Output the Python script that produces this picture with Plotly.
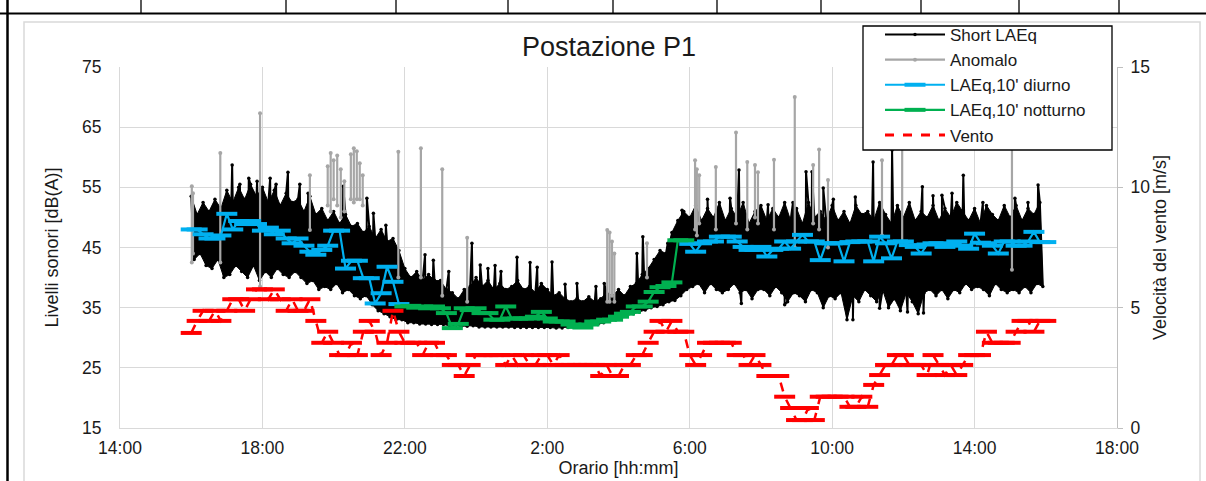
import pandas as pd
import plotly.graph_objects as go

# ---------------- DATA ----------------
START = pd.Timestamp("2021-06-15 16:00")
N_SLOTS = 145  # 10-minute slots 16:00 -> 16:00 next day

# Short LAEq envelope per 10-min slot (upper / lower reading of the dense band), dB(A)
short_hi = [
    53.5, 50.5, 52.5, 51.0, 53.0, 51.5,   # 16
    54.5, 52.5, 55.0, 53.0, 55.5, 53.5,   # 17
    55.0, 52.5, 54.5, 52.0, 54.0, 52.5,   # 18
    53.0, 51.0, 53.5, 50.5, 51.5, 49.5,   # 19
    51.0, 49.0, 50.5, 48.5, 49.0, 47.5,   # 20
    48.5, 46.5, 48.0, 46.0, 46.5, 44.5,   # 21
    41.5, 40.0, 41.0, 39.5, 40.5, 39.5,   # 22
    39.5, 38.0, 37.5, 36.5, 38.0, 38.5,   # 23
    40.0, 38.5, 39.5, 38.0, 39.0, 38.0,   # 0
    38.5, 39.5, 38.0, 38.5, 37.5, 39.0,   # 1
    38.0, 37.0, 37.5, 36.5, 36.0, 36.5,   # 2
    36.0, 36.8, 36.0, 36.5, 37.5, 37.0,   # 3
    38.0, 37.0, 38.5, 39.0, 40.5, 41.5,   # 4
    43.0, 44.5, 44.0, 47.5, 49.5, 51.0,   # 5
    50.0, 52.0, 49.5, 51.5, 50.0, 52.5,   # 6
    49.5, 51.5, 50.0, 52.5, 49.0, 51.0,   # 7
    52.0, 49.5, 51.5, 50.0, 52.5, 49.5,   # 8
    51.5, 49.0, 52.5, 50.0, 51.0, 49.5,   # 9
    52.0, 49.5, 51.0, 49.0, 52.0, 50.5,   # 10
    51.0, 49.5, 52.5, 50.5, 49.0, 52.0,   # 11
    50.0, 52.5, 49.5, 51.0, 50.0, 52.0,   # 12
    49.5, 51.5, 50.0, 52.5, 51.0, 49.5,   # 13
    51.5, 49.0, 52.0, 50.5, 49.5, 52.0,   # 14
    50.0, 52.0, 49.5, 51.5, 50.5, 52.5,   # 15
]
short_lo = [
    43.0, 44.0, 42.0, 41.5, 43.0, 40.0,
    40.5, 42.0, 41.0, 40.0, 42.0, 39.5,
    41.0, 40.0, 41.5, 40.5, 40.0, 41.0,
    40.0, 39.0, 39.5, 38.0, 38.5, 38.0,
    39.0, 37.5, 38.0, 37.0, 36.5, 37.0,
    35.5, 34.5, 34.0, 33.5, 33.0, 33.0,
    32.5, 32.5, 32.3, 32.3, 32.2, 32.2,
    32.2, 32.0, 32.0, 31.9, 31.9, 32.0,
    31.8, 31.8, 31.8, 31.8, 31.8, 31.8,
    31.7, 31.7, 31.7, 31.7, 31.7, 31.7,
    31.7, 31.6, 31.6, 31.7, 31.8, 31.9,
    32.0, 32.1, 32.2, 32.5, 32.8, 33.0,
    33.3, 33.6, 34.0, 34.3, 34.6, 35.0,
    35.2, 35.5, 36.0, 36.2, 37.0, 38.0,
    38.5, 39.0, 37.5, 39.0, 38.0, 37.5,
    38.0, 39.0, 37.5, 38.0, 36.5, 38.0,
    38.0, 37.0, 38.5, 37.5, 36.0, 37.5,
    37.0, 36.0, 38.0, 37.5, 35.0, 37.0,
    36.5, 37.5, 33.0, 37.0, 36.0, 38.0,
    37.0, 36.0, 38.0, 35.0, 36.5, 34.5,
    37.5, 36.0, 34.0, 37.5, 38.0, 37.0,
    38.0, 36.5, 38.0, 37.5, 39.0, 38.0,
    38.5, 38.0, 37.0, 39.0, 38.0, 37.5,
    38.0, 37.5, 38.5, 37.5, 39.0, 38.5,
]
# isolated Short LAEq peaks / dips (clock time, dB(A))
short_spike_time = [
    "17:09", "17:22", "17:37", "17:51", "18:13", "18:23", "18:43", "19:03", "19:17",
    "20:16", "20:56", "21:07", "21:28",
    "22:34", "22:48", "23:14", "23:53", "00:07", "00:20", "00:32", "00:42", "01:09",
    "01:31", "01:43", "02:08", "02:30", "02:50", "03:22", "03:36", "04:31", "04:41",
    "05:23", "05:47",
    "06:30", "07:08", "07:23", "08:12", "08:54", "09:16", "09:26", "09:45", "10:02",
    "10:39", "11:09", "11:41", "12:32", "12:50", "13:05", "13:22", "13:41", "14:14",
    "15:08", "15:30", "15:47",
    "07:27", "08:40", "10:35", "11:20", "12:07", "12:34",
]
short_spike_val = [
    58.7, 55.5, 56.5, 56.0, 56.5, 55.5, 57.5, 55.5, 54.0,
    55.2, 53.2, 50.7, 48.7,
    43.8, 42.9, 41.0, 45.7, 42.1, 41.5, 42.0, 41.0, 43.4,
    42.5, 41.7, 42.6, 38.9, 39.0, 38.5, 39.0, 44.0, 46.8,
    45.7, 51.2,
    53.0, 53.2, 57.9, 52.1, 52.5, 57.6, 57.6, 54.9, 53.0,
    53.4, 59.2, 61.2, 55.1, 53.6, 53.7, 54.0, 57.0, 52.5,
    53.2, 52.5, 55.4,
    35.7, 35.5, 33.0, 34.9, 34.3, 34.1,
]

# Anomalous events (clock time, lowest and highest value of the event), dB(A)
anom_time = [
    "16:01", "16:03", "16:49", "17:56", "19:20",
    "19:50", "19:55", "20:00", "20:06", "20:12", "20:18",
    "20:29", "20:34", "20:39", "20:44", "20:49",
    "21:49", "22:27", "23:03", "23:45",
    "03:41", "03:45", "03:49", "03:53", "04:48",
    "06:09", "06:12", "06:16", "06:44", "07:18", "07:37", "07:50", "07:55",
    "08:22", "08:57", "09:28", "09:38", "09:53", "11:24", "11:58", "15:03",
]
anom_low = [
    42.5, 44.0, 42.5, 38.5, 47.9,
    52.0, 51.0, 53.0, 52.0, 50.0, 51.0,
    53.0, 52.5, 53.0, 53.0, 52.0,
    40.0, 40.0, 37.0, 36.0,
    36.0, 36.0, 37.0, 36.0, 40.0,
    48.0, 47.0, 49.0, 48.0, 49.0, 48.0, 50.0, 49.0,
    48.0, 45.0, 49.0, 48.0, 45.0, 47.0, 46.0, 41.3,
]
anom_high = [
    55.2, 54.0, 60.7, 67.3, 57.0,
    58.5, 60.7, 59.5, 60.3, 58.0, 56.0,
    60.5, 61.5, 61.0, 59.0, 57.0,
    60.9, 61.5, 58.0, 46.6,
    47.9, 47.5, 46.0, 44.0, 45.7,
    59.5, 58.0, 57.0, 58.4, 64.1, 59.2, 58.7, 57.5,
    59.6, 70.0, 58.7, 61.3, 56.2, 59.5, 63.0, 63.0,
]

# LAEq,10' daytime (16:00-21:50 and 06:00-16:00) and night-time (22:00-05:50), dB(A)
laeq_diurno_eve = [
    48.0, 48.0, 47.2, 46.5, 46.5, 47.0, 50.6, 48.0, 49.4, 48.9, 49.4, 48.9,
    47.8, 48.3, 47.2, 47.8, 46.5, 45.7, 46.5, 45.3, 44.3, 43.8, 44.6, 45.3,
    47.8, 47.8, 41.5, 42.8, 42.8, 39.9, 39.9, 35.7, 37.4, 41.8, 39.3, 35.6,
]
laeq_notturno = [
    35.2, 35.3, 35.0, 35.2, 34.9, 35.2, 34.9, 34.1, 31.6, 32.3, 34.9, 34.6,
    34.9, 34.1, 34.1, 33.0, 33.0, 35.2, 33.2, 33.2, 33.2, 33.2, 33.5, 34.3,
    33.2, 32.7, 32.7, 32.7, 32.2, 31.8, 31.7, 32.2, 32.7, 32.7, 33.0, 33.0,
    33.5, 34.0, 34.3, 35.2, 35.2, 36.0, 37.6, 38.4, 38.6, 39.2, 46.2, 46.2,
]
laeq_diurno_day = [
    45.6, 44.3, 45.7, 46.0, 46.0, 46.8, 46.8, 46.8, 46.0, 45.1, 44.6, 44.6,
    45.1, 43.5, 44.6, 44.8, 46.0, 44.8, 46.0, 47.1, 46.0, 46.0, 42.9, 45.7,
    45.7, 45.7, 42.7, 45.9, 46.0, 46.0, 46.0, 42.7, 46.8, 45.7, 43.2, 46.0,
    46.0, 45.4, 45.1, 44.0, 45.5, 45.7, 45.7, 45.1, 45.5, 46.0, 45.3, 44.8,
    47.3, 45.8, 45.7, 45.3, 44.0, 46.0, 46.0, 45.3, 45.3, 46.0, 47.6, 45.9,
    45.9,
]

# Wind speed per 10-min slot, m/s
vento = [
    3.95, 4.45, 4.87, 4.45, 4.87, 4.45,
    4.87, 5.35, 5.35, 4.87, 5.35, 5.76,
    5.76, 5.35, 5.76, 5.35, 4.87, 5.35,
    4.87, 4.87, 5.35, 4.45, 3.54, 4.0,
    3.54, 3.03, 3.03, 3.54, 3.03, 4.0,
    4.45, 4.0, 3.03, 3.54, 4.87, 4.0,
    3.54, 3.54, 3.54, 3.03, 3.54, 3.54,
    3.03, 3.03, 2.62, 2.62, 2.16, 2.62,
    3.03, 3.03, 3.03, 3.03, 3.03, 2.62,
    3.03, 2.62, 3.03, 2.62, 2.62, 3.03,
    3.03, 2.62, 3.03, 2.62, 2.62, 2.62,
    2.62, 2.62, 2.62, 2.16, 2.62, 2.16,
    2.16, 2.62, 2.62, 3.03, 3.03, 3.54,
    4.0, 4.45, 4.0, 4.45, 4.0, 4.0,
    3.03, 2.62, 3.03, 3.54, 3.54, 3.54,
    3.54, 3.54, 3.03, 3.03, 2.62, 3.03,
    2.62, 2.16, 2.16, 2.16, 1.30, 0.83,
    0.33, 0.33, 0.83, 0.33, 1.30, 1.30,
    1.30, 1.30, 1.30, 0.88, 0.88, 1.30,
    0.88, 1.79, 2.2, 2.62, 2.62, 3.03,
    3.03, 2.62, 2.62, 2.62, 2.2, 3.03,
    2.62, 2.2, 2.62, 2.2, 2.62, 3.03,
    3.03, 3.03, 4.0, 3.54, 3.54, 3.54,
    3.54, 4.0, 4.45, 4.45, 4.0, 4.45,
    4.45,
]

x_ticks_hours = 4
# ---------------------------------------

times10 = pd.date_range(START, periods=N_SLOTS, freq="10min")
day1 = START.normalize()
HALF = pd.Timedelta(minutes=5)


def clock(s):
    h, m = map(int, s.split(":"))
    base = day1 if h * 60 + m >= 16 * 60 else day1 + pd.Timedelta(days=1)
    return base + pd.Timedelta(hours=h, minutes=m)


n_band = len(short_hi)
# Short LAEq: band readings + isolated peaks, in time order
pts = []
for i, (hv, lv) in enumerate(zip(short_hi, short_lo)):
    pts.append((times10[i], hv))
    pts.append((times10[i] + HALF, lv))
for s, v in zip(short_spike_time, short_spike_val):
    pts.append((clock(s), v))
pts.sort(key=lambda p: p[0])
sx = [p[0] for p in pts]
sy = [p[1] for p in pts]

# band body (between the upper and lower readings)
band_x = list(times10[:n_band]) + [times10[i] + HALF for i in range(n_band - 1, -1, -1)]
band_y = list(short_hi) + list(reversed(short_lo))

# Anomalies as vertical events
ax_, ay_ = [], []
for s, lo, hi in zip(anom_time, anom_low, anom_high):
    t = clock(s)
    ax_ += [t, t, None]
    ay_ += [lo, hi, None]

n_eve = len(laeq_diurno_eve)
n_night = len(laeq_notturno)
diurno = laeq_diurno_eve + [None] * n_night + laeq_diurno_day
notturno = [None] * n_eve + laeq_notturno + [None] * len(laeq_diurno_day)

FONT = "Arial, 'Liberation Sans', sans-serif"
TXT = "#1a1a1a"
GRID = "#D9D9D9"

fig = go.Figure()
fig.add_trace(go.Scatter(
    x=band_x, y=band_y, fill="toself", fillcolor="black", mode="lines",
    line=dict(color="black", width=1), legendgroup="short", showlegend=False,
    hoverinfo="skip",
))
fig.add_trace(go.Scatter(
    x=sx, y=sy, name="Short LAEq", mode="lines+markers", legendgroup="short",
    line=dict(color="black", width=2, simplify=False),
    marker=dict(color="black", size=3.5),
))
fig.add_trace(go.Scatter(
    x=ax_, y=ay_, name="Anomalo", mode="lines+markers",
    line=dict(color="#A6A6A6", width=2.2),
    marker=dict(color="#A6A6A6", size=4),
    connectgaps=False,
))
fig.add_trace(go.Scatter(
    x=times10, y=diurno, name="LAEq,10' diurno", mode="lines+markers",
    line=dict(color="#00B0F0", width=2.2),
    marker=dict(symbol="line-ew", size=15, line=dict(color="#00B0F0", width=4)),
))
fig.add_trace(go.Scatter(
    x=times10, y=notturno, name="LAEq,10' notturno", mode="lines+markers",
    line=dict(color="#00B050", width=2.2),
    marker=dict(symbol="line-ew", size=15, line=dict(color="#00B050", width=4)),
))
fig.add_trace(go.Scatter(
    x=times10, y=vento, name="Vento", mode="lines+markers", yaxis="y2",
    legendgroup="vento", showlegend=False,
    line=dict(color="#FF0000", width=2.5, dash="dash"),
    marker=dict(symbol="line-ew", size=15, line=dict(color="#FF0000", width=4)),
))
# legend entry for the wind (dashed line only, as in the original key)
fig.add_trace(go.Scatter(
    x=[None], y=[None], name="Vento", mode="lines", yaxis="y2", legendgroup="vento",
    line=dict(color="#FF0000", width=3, dash="dash"),
))

# pixel helpers for decorations (plot area 120..1117 x 67..428)
L, R, T, B = 120, 1117, 67, 428


def px(x):
    return (x - L) / (R - L)


def py(y):
    return (B - y) / (B - T)


shapes = [
    dict(type="rect", xref="paper", yref="paper", x0=px(24), x1=px(1200), y0=py(495), y1=py(22),
         line=dict(color=GRID, width=1.5), fillcolor="rgba(0,0,0,0)", layer="below"),
    dict(type="line", xref="paper", yref="paper", x0=px(7.5), x1=px(7.5), y0=py(0), y1=py(481),
         line=dict(color="black", width=2.5)),
    dict(type="line", xref="paper", yref="paper", x0=px(0), x1=px(1206), y0=py(13.5), y1=py(13.5),
         line=dict(color="black", width=2)),
    # legend frame
    dict(type="rect", xref="paper", yref="paper", x0=px(863), x1=px(1112), y0=py(150), y1=py(26),
         line=dict(color="black", width=1.3), fillcolor="white", layer="above"),
]
for xv in [141, 286, 396, 508, 613, 717, 821, 921, 1019, 1119]:
    shapes.append(dict(type="line", xref="paper", yref="paper", x0=px(xv), x1=px(xv),
                       y0=py(0), y1=py(13), line=dict(color="black", width=1.3)))

x0 = day1 + pd.Timedelta(hours=14)
x1 = day1 + pd.Timedelta(days=1, hours=18)

fig.update_layout(
    width=1206, height=481,
    margin=dict(l=L, r=1206 - R, t=T, b=481 - B, autoexpand=False),
    paper_bgcolor="white", plot_bgcolor="white",
    font=dict(family=FONT, size=17, color=TXT),
    title=dict(text="Postazione P1", x=px(609), xref="paper", xanchor="center",
               y=1 - 47 / 481, yref="container", yanchor="middle",
               font=dict(size=27, color=TXT, family=FONT)),
    showlegend=True,
    legend=dict(x=px(880), y=py(17), xanchor="left", yanchor="top",
                bgcolor="rgba(0,0,0,0)", borderwidth=0,
                font=dict(size=17, color=TXT, family=FONT), tracegroupgap=0,
                itemwidth=60),
    xaxis=dict(type="date", range=[x0, x1], tick0=x0, dtick=x_ticks_hours * 3600000,
               tickformat="%-H:%M", showgrid=True, gridcolor=GRID, gridwidth=1,
               showline=True, linecolor=GRID, linewidth=1, zeroline=False, ticks="",
               ticklabelstandoff=4, automargin=False,
               tickfont=dict(size=17.5, color=TXT),
               title=dict(text="Orario [hh:mm]", standoff=0, font=dict(size=18, color=TXT))),
    yaxis=dict(range=[15, 75], tick0=15, dtick=10, showgrid=True, gridcolor=GRID, gridwidth=1,
               showline=True, linecolor=GRID, zeroline=False, ticks="", ticklabelstandoff=14,
               tickfont=dict(size=17.5, color=TXT), automargin=False,
               title=dict(text="Livelli sonori [dB(A)]", standoff=18, font=dict(size=18, color=TXT))),
    yaxis2=dict(range=[0, 15], tick0=0, dtick=5, overlaying="y", side="right", showgrid=False,
                showline=True, linecolor="#BFBFBF", zeroline=False, ticks="outside", ticklen=5,
                tickcolor="#BFBFBF", ticklabelstandoff=4, tickfont=dict(size=17.5, color=TXT),
                automargin=False,
                title=dict(text="Velocità del vento [m/s]", standoff=4, font=dict(size=18, color=TXT))),
    shapes=shapes,
)

fig.write_html("out.html")
